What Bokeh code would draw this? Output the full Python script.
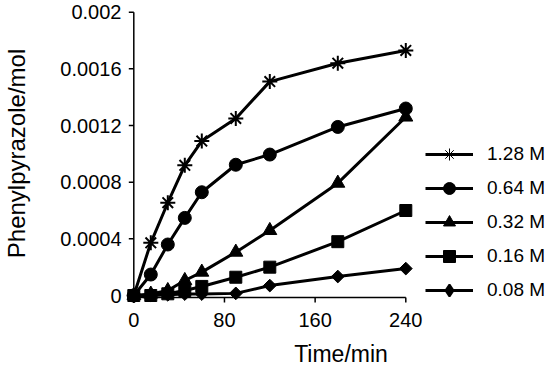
from bokeh.plotting import figure
from bokeh.models import Range1d, FixedTicker, CustomJSTickFormatter, Legend, LegendItem
from bokeh.embed import file_html
from bokeh.resources import INLINE
import math

# ---- data ----
time_min = [0, 15, 30, 45, 60, 90, 120, 180, 240]
c128 = [0, 0.000372, 0.000655, 0.000919, 0.00109, 0.00125, 0.00151, 0.00164, 0.00173]
c064 = [0, 0.000148, 0.00036, 0.000548, 0.000729, 0.000923, 0.000995, 0.00119, 0.00132]
c032 = [0, 0.00001, 0.000035, 0.000106, 0.000165, 0.000306, 0.000459, 0.000793, 0.00126]
c016 = [0, 0, 0.000012, 0.000035, 0.000064, 0.000129, 0.0002, 0.00038, 0.0006]
c008 = [0, 0, 0.000005, 0.00001, 0.00001, 0.000015, 0.00007, 0.000134, 0.00019]
series_labels = ["1.28 M", "0.64 M", "0.32 M", "0.16 M", "0.08 M"]
x_ticks = [0, 80, 160, 240]
y_ticks = [0, 0.0004, 0.0008, 0.0012, 0.0016, 0.002]
x_title = "Time/min"
y_title = "Phenylpyrazole/mol"

FONT = "Liberation Sans"

# ---- geometry (pixels) ----
W, H = 555, 370
left, right, top, bottom = 126, 0, 3, 67
fw = W - left - right
fh = H - top - bottom
x0_px = 7.3              # frame left -> x = 0
x1_px = 279.3            # frame left -> x = 240
ppx = (x1_px - x0_px) / (x_ticks[-1] - x_ticks[0])
x_start = x_ticks[0] - x0_px / ppx
x_end = x_start + fw / ppx
ytop_px = 8.7            # frame top -> y = 0.002
yzero_px = 292.0         # frame top -> y = 0
ppy = (yzero_px - ytop_px) / (y_ticks[-1] - y_ticks[0])
y_end = y_ticks[-1] + ytop_px / ppy
y_start = y_end - fh / ppy

p = figure(width=W, height=H, output_backend="svg", toolbar_location=None,
           x_range=Range1d(x_start, x_end), y_range=Range1d(y_start, y_end),
           min_border_left=left, min_border_right=right,
           min_border_top=top, min_border_bottom=bottom)
p.outline_line_color = None
p.grid.visible = False
p.background_fill_color = "white"
p.border_fill_color = "white"

# axes: labels only; spines drawn as data segments
for ax in (p.xaxis[0], p.yaxis[0]):
    ax.axis_line_color = None
    ax.major_tick_line_color = None
    ax.minor_tick_line_color = None
    ax.major_tick_out = 0
    ax.major_tick_in = 0
    ax.major_label_text_font = FONT
    ax.major_label_text_font_size = "20px"
    ax.major_label_text_color = "black"
    ax.axis_label_text_font = FONT
    ax.axis_label_text_font_style = "normal"
    ax.axis_label_text_color = "black"

p.xaxis.ticker = FixedTicker(ticks=x_ticks)
p.yaxis.ticker = FixedTicker(ticks=y_ticks)
p.yaxis.formatter = CustomJSTickFormatter(code="""
let s = tick.toFixed(4);
s = s.replace(/0+$/, '').replace(/\\.$/, '');
return s;
""")
p.xaxis.major_label_standoff = 9
p.yaxis.major_label_standoff = 5
p.xaxis.axis_label = x_title
p.yaxis.axis_label = y_title
p.xaxis.axis_label_text_font_size = "23px"
p.yaxis.axis_label_text_font_size = "24px"
p.xaxis.axis_label_standoff = 11
p.yaxis.axis_label_standoff = 27

# spines
spine_y = -2.0 / ppy
tick_len = 5.0
p.segment(x0=[x_ticks[0]], y0=[spine_y], x1=[x_ticks[-1]], y1=[spine_y], line_color="black", line_width=1.5)
p.segment(x0=[x_ticks[0]], y0=[spine_y], x1=[x_ticks[0]], y1=[y_ticks[-1]], line_color="black", line_width=1.5)
p.segment(x0=x_ticks, y0=[spine_y] * len(x_ticks), x1=x_ticks,
          y1=[spine_y - tick_len / ppy] * len(x_ticks), line_color="black", line_width=1.5)
p.segment(x0=[x_ticks[0]] * len(y_ticks), y0=y_ticks, x1=[x_ticks[0] - tick_len / ppx] * len(y_ticks),
          y1=y_ticks, line_color="black", line_width=1.5)

series = [c128, c064, c032, c016, c008]
markers = ["asterisk", "circle", "triangle", "square", "square"]
sizes = [15, 13, 14, 12, 9]
angles = [0, 0, 0, 0, math.pi / 4]
# legend-only marker styles (legend ignores marker angle)
legend_markers = ["asterisk", "circle", "triangle", "square", "diamond"]
legend_lw = [1, 1, 1, 1, 2]

nan = float("nan")
items = []
for vals, lab, mk, sz, ang, lmk, llw in zip(series, series_labels, markers, sizes, angles,
                                             legend_markers, legend_lw):
    lr = p.line(time_min, vals, line_color="black", line_width=3)
    sr = p.scatter(time_min, vals, marker=mk, size=sz, angle=ang,
                   fill_color="black", line_color="black",
                   line_width=2 if mk == "asterisk" else 1)
    # proxy renderer with no visible point, used only for the legend swatch
    pr = p.scatter([nan], [nan], marker=lmk, size=sz,
                   fill_color="black", line_color="black", line_width=llw)
    items.append(LegendItem(label=lab, renderers=[lr, pr]))

legend = Legend(items=items, location=(299, -2), orientation="vertical",
                glyph_width=48, glyph_height=30, spacing=4, label_height=20,
                label_standoff=14, padding=0, margin=0,
                label_text_font=FONT, label_text_font_size="19px",
                label_text_color="black",
                border_line_color=None, background_fill_alpha=0)
p.add_layout(legend, "center")

open("out.html", "w").write(file_html(p, INLINE))
